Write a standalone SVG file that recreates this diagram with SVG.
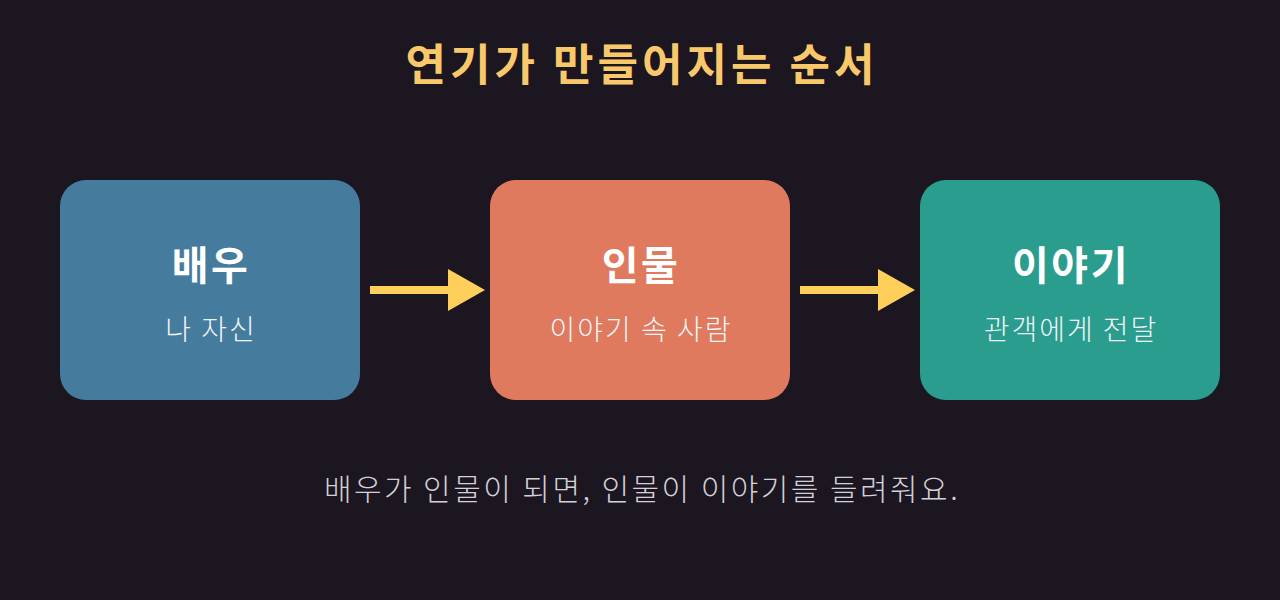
<svg xmlns="http://www.w3.org/2000/svg" width="1280" height="600" viewBox="0 0 1280 600">
<style>
text{font-family:"Noto Sans CJK KR","Noto Sans",sans-serif;text-anchor:middle}
.title{font-size:44px;font-weight:700;fill:#f9c86b;letter-spacing:4px}
.h{font-size:40px;font-weight:700;fill:#ffffff;letter-spacing:2.5px}
.s{font-size:28px;font-weight:300;fill:#eef4f6;letter-spacing:2px}
.f{font-size:30px;font-weight:300;fill:#d2d0d8;letter-spacing:2.45px}
.conn line{stroke:#ffcf5c;stroke-width:8}
.conn polygon{fill:#ffcf5c}
</style>
<rect width="1280" height="600" fill="#1c1621"/>
<text class="title" x="642" y="81">연기가 만들어지는 순서</text>
<g id="node-actor">
<rect x="60" y="180" width="300" height="220" rx="26" fill="#457b9d"/>
<text class="h" x="211" y="280">배우</text>
<text class="s" x="211" y="340">나 자신</text>
</g>
<g id="node-character">
<rect x="490" y="180" width="300" height="220" rx="26" fill="#e07a5f"/>
<text class="h" x="641" y="280">인물</text>
<text class="s" x="641" y="340">이야기 속 사람</text>
</g>
<g id="node-story">
<rect x="920" y="180" width="300" height="220" rx="26" fill="#2a9d8f"/>
<text class="h" x="1071" y="280">이야기</text>
<text class="s" x="1071" y="340">관객에게 전달</text>
</g>
<g class="conn" id="connectors">
<line x1="370" y1="290" x2="450" y2="290"/>
<polygon points="448,269 485,290 448,311"/>
<line x1="800" y1="290" x2="880" y2="290"/>
<polygon points="878,269 915,290 878,311"/>
</g>
<text class="f" x="642" y="500">배우가 인물이 되면, 인물이 이야기를 들려줘요.</text>
</svg>
